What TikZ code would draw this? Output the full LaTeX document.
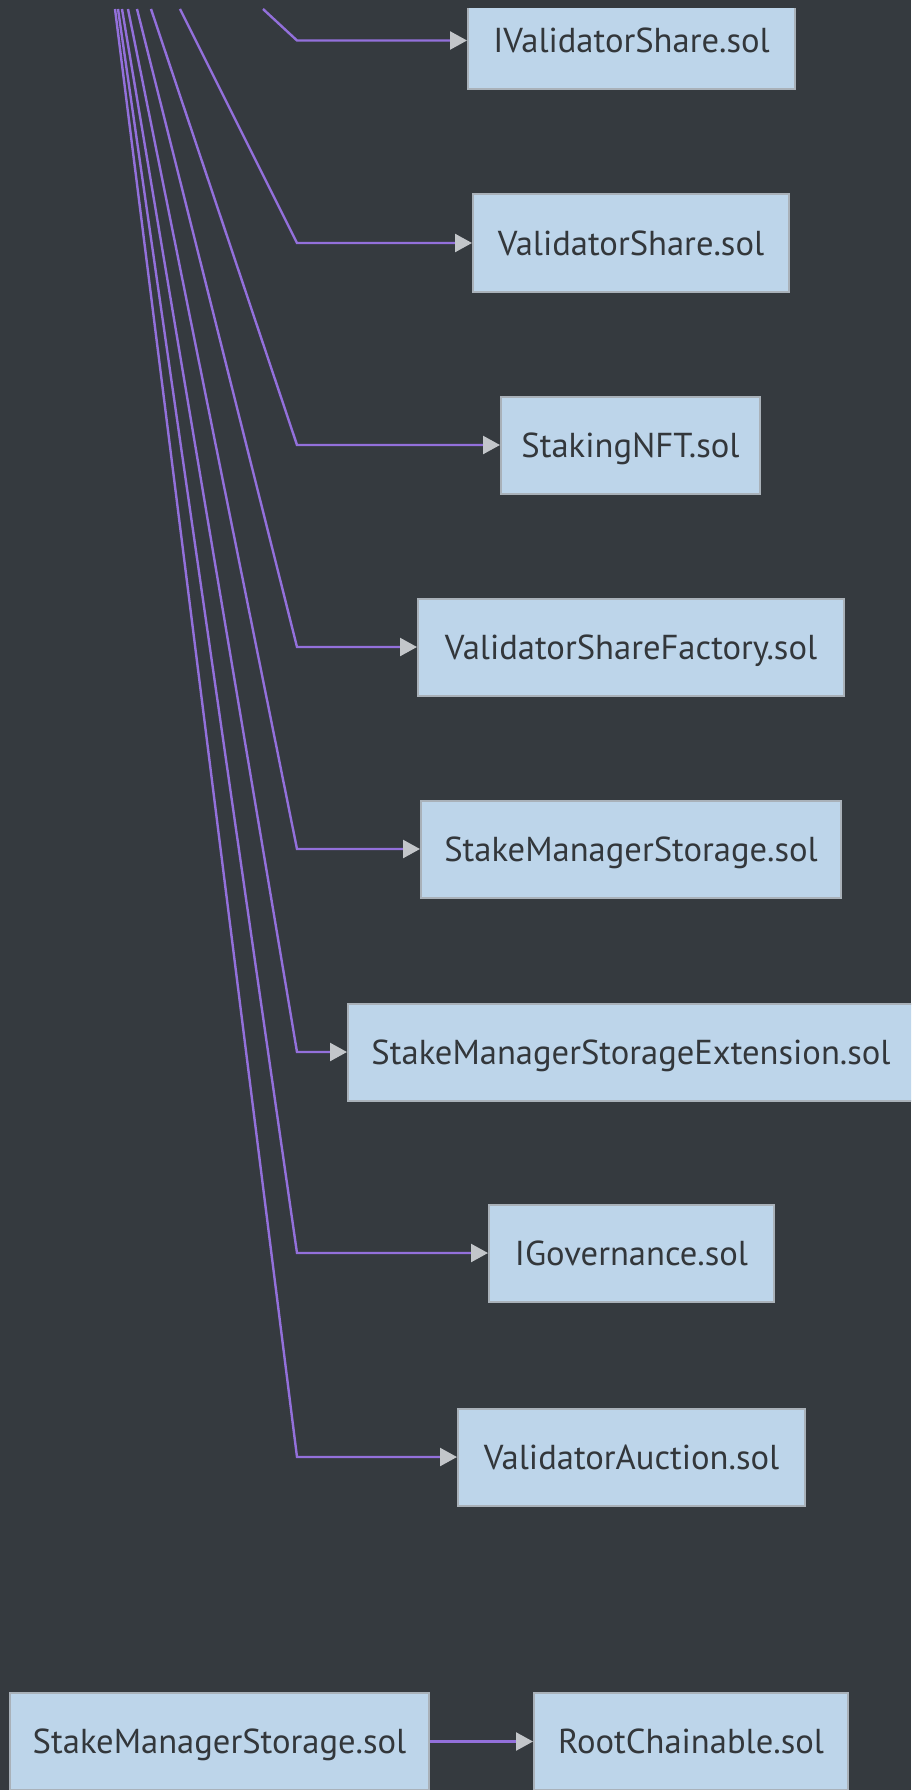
\documentclass[tikz,border=0pt]{standalone}
\usepackage{fontspec}
\setmainfont{PT Sans}
\usetikzlibrary{arrows.meta}
\definecolor{bgdark}{HTML}{353A3F}
\definecolor{edgepurple}{HTML}{9370DB}
\definecolor{boxblue}{HTML}{BDD5EA}
\definecolor{boxline}{HTML}{A9B1B9}
\definecolor{tipgray}{HTML}{C3C6CA}
\definecolor{labeltext}{HTML}{33373B}
\begin{document}
\begin{tikzpicture}[x=1pt,y=-1pt,
  file/.style={draw=boxline,line width=2pt,fill=boxblue,text=labeltext,minimum height=97pt,
    inner sep=0pt,text height=24pt,text depth=0pt,font=\fontsize{34.6}{40}\selectfont},
  dep/.style={draw=edgepurple,line width=2.4pt,-{Triangle[length=17pt,width=18pt,color=tipgray]}}]
\fill[bgdark] (0,0) rectangle (911,1790);
\useasboundingbox (0,0) rectangle (911,1790);
\clip (0,9) rectangle (911,1790);

\node[file,minimum width=327pt] (ivs) at (631.5,40.5) {IValidatorShare.sol};
\node[file,minimum width=316pt] (vs) at (631,243) {ValidatorShare.sol};
\node[file,minimum width=259pt] (nft) at (630.5,445) {StakingNFT.sol};
\node[file,minimum width=426pt] (vsf) at (631,647) {ValidatorShareFactory.sol};
\node[file,minimum width=420pt] (sms) at (631,849) {StakeManagerStorage.sol};
\node[file,minimum width=566pt] (smse) at (631,1052) {StakeManagerStorageExtension.sol};
\node[file,minimum width=285pt] (gov) at (631.5,1253) {IGovernance.sol};
\node[file,minimum width=347pt] (auc) at (631.5,1457) {ValidatorAuction.sol};

\node[file,minimum width=419pt] (smsb) at (219.5,1741.5) {StakeManagerStorage.sol};
\node[file,minimum width=314pt] (rc) at (691,1741.5) {RootChainable.sol};

\coordinate (sivs) at (263,9);
\coordinate (svs) at (180,9);
\coordinate (snft) at (151,9);
\coordinate (svsf) at (137,9);
\coordinate (ssms) at (128,9);
\coordinate (ssmse) at (122,9);
\coordinate (sgov) at (118,9);
\coordinate (sauc) at (115,9);

\draw[dep] (sivs) -- (297,40.5) -- (ivs.west);
\draw[dep] (svs) -- (297,243) -- (vs.west);
\draw[dep] (snft) -- (297,445) -- (nft.west);
\draw[dep] (svsf) -- (297,647) -- (vsf.west);
\draw[dep] (ssms) -- (297,849) -- (sms.west);
\draw[dep] (ssmse) -- (297,1052) -- (smse.west);
\draw[dep] (sgov) -- (297,1253) -- (gov.west);
\draw[dep] (sauc) -- (297,1457) -- (auc.west);

\draw[dep] (smsb) -- (rc);
\end{tikzpicture}
\end{document}
